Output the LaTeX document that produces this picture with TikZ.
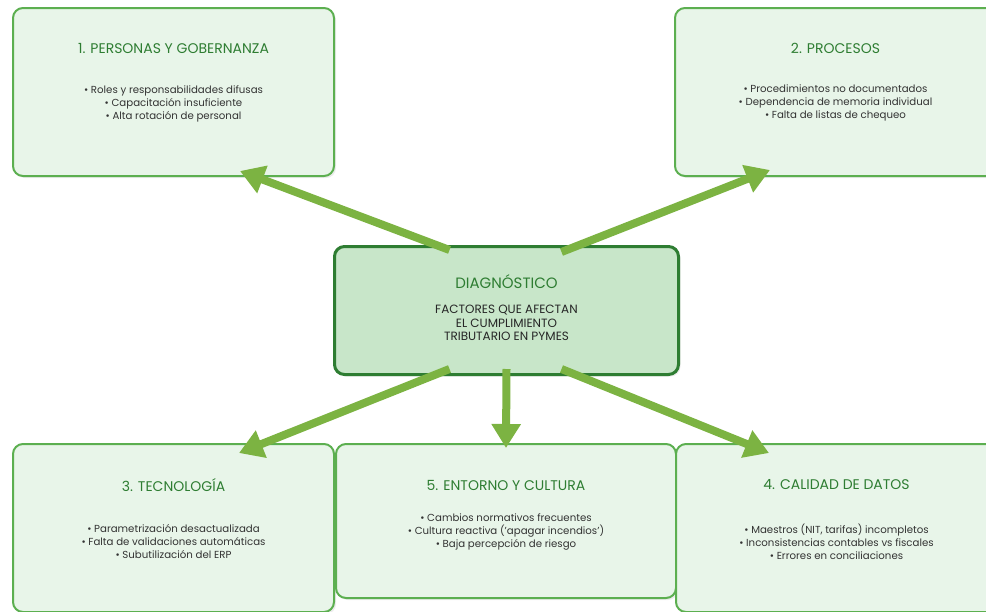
\documentclass[tikz,border=0pt]{standalone}
\usepackage{fontspec}
\setmainfont{Poppins}
\usepackage{xcolor}
\usepackage{tikz}
\usetikzlibrary{
    shapes,
    positioning,
    calc,
    shadows
}
\usetikzlibrary{arrows.meta}

\definecolor{boxfill}{HTML}{E8F5E9}
\definecolor{boxline}{HTML}{5CAF50}
\definecolor{hubfill}{HTML}{C8E6C9}
\definecolor{hubline}{HTML}{2E7D32}
\definecolor{titlegreen}{HTML}{2E7D32}
\definecolor{arrowgreen}{HTML}{7CB342}
\definecolor{bodytext}{HTML}{333333}

\tikzset{factor/.style={
    draw=boxline,
    fill=boxfill,
    line width=2pt,
    minimum height=168pt,
    minimum width=321pt,
    rounded corners=10pt,
    anchor=north west,
    drop shadow={opacity=0.15, shadow xshift=2pt, shadow yshift=-2pt},
}}
\tikzset{hub/.style={
    draw=hubline,
    fill=hubfill,
    line width=3pt,
    minimum height=128pt,
    minimum width=344pt,
    rounded corners=10pt,
    anchor=north west,
    drop shadow={opacity=0.15, shadow xshift=2pt, shadow yshift=-2pt},
}}
\tikzset{title/.style={
    text=titlegreen,
    font=\fontsize{14}{16}\selectfont,
}}
\tikzset{items/.style={
    text=bodytext,
    font=\fontsize{10.2}{13}\selectfont,
}}
\tikzset{arrow/.style={
    -{Triangle[width=28pt,length=24pt]},
    line width=8pt,
    color=arrowgreen,
}}

\begin{document}
\begin{tikzpicture}[
                x=1pt, y=-1pt,
                align=center,
                node distance=0.0cm
        ]
            \useasboundingbox (0,0) rectangle (986,611);
            \clip (0,0) rectangle (986,611);

            % factor boxes
            \node[factor] (people) at (12,7) {};
            \node[factor] (process) at (674,7) {};
            \node[hub] (diag) at (333,245) {};
            \node[factor] (tech) at (12,443) {};
            \node[factor, minimum width=340pt, minimum height=154pt] (env) at (335,443) {};
            \node[factor] (data) at (675,443) {};

            \node[title] (people-title) at ([yshift=-41pt]people.north) {1. PERSONAS Y GOBERNANZA};
            \node[items] (people-items) at ([yshift=-97pt]people.north)
                {\textbullet\ Roles y responsabilidades difusas\\ \textbullet\ Capacitación insuficiente\\ \textbullet\ Alta rotación de personal};

            \node[title] (process-title) at ([yshift=-41pt]process.north) {2. PROCESOS};
            \node[items] (process-items) at ([yshift=-96pt]process.north)
                {\textbullet\ Procedimientos no documentados\\ \textbullet\ Dependencia de memoria individual\\ \textbullet\ Falta de listas de chequeo};

            \node[title, font=\fontsize{15}{17}\selectfont] (diag-title) at ([yshift=-37pt]diag.north) {DIAGNÓSTICO};
            \node[items, font=\fontsize{12}{13.5}\selectfont, text=black!85] (diag-text) at ([yshift=-78pt]diag.north)
                {FACTORES QUE AFECTAN\\ EL CUMPLIMIENTO\\ TRIBUTARIO EN PYMES};

            \node[title] (tech-title) at ([yshift=-42pt]tech.north) {3. TECNOLOGÍA};
            \node[items] (tech-items) at ([yshift=-99pt]tech.north)
                {\textbullet\ Parametrización desactualizada\\ \textbullet\ Falta de validaciones automáticas\\ \textbullet\ Subutilización del ERP};

            \node[title] (env-title) at ([yshift=-42pt]env.north) {5. ENTORNO Y CULTURA};
            \node[items] (env-items) at ([yshift=-89pt]env.north)
                {\textbullet\ Cambios normativos frecuentes\\ \textbullet\ Cultura reactiva ('apagar incendios')\\ \textbullet\ Baja percepción de riesgo};

            \node[title] (data-title) at ([yshift=-42pt]data.north) {4. CALIDAD DE DATOS};
            \node[items] (data-items) at ([yshift=-99pt]data.north)
                {\textbullet\ Maestros (NIT, tarifas) incompletos\\ \textbullet\ Inconsistencias contables vs fiscales\\ \textbullet\ Errores en conciliaciones};

            % arrows out of the hub
            \draw[arrow] ($(diag.north)+(-57,5)$) -- ($(people.south east)+(-95,-6)$);
            \draw[arrow] ($(diag.north)+(55,7)$) -- ($(process.south west)+(96,-7)$);
            \draw[arrow] ($(diag.south)+(-57,-7)$) -- ($(tech.north east)+(-96,10)$);
            \draw[arrow] ($(diag.south)+(0,-7)$) -- ($(env.north)+(0,5)$);
            \draw[arrow] ($(diag.south)+(55,-7)$) -- ($(data.north west)+(94,10)$);

        \end{tikzpicture}
\end{document}
